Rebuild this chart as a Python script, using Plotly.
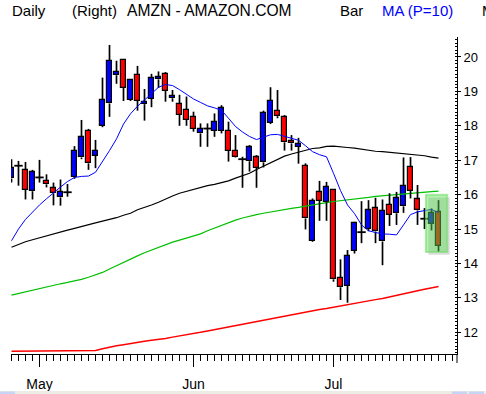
import plotly.graph_objects as go

# ---------------- data ----------------
month_tick_idx = [4, 26, 46]
month_labels = ["May", "Jun", "Jul"]

opens = [16.47, 16.84, 16.71, 16.10, 16.50, 16.39, 16.18, 15.92, 16.07, 16.52,
         17.08, 17.85, 17.13, 18.00, 18.65, 19.47, 19.91, 18.75, 19.48, 18.63,
         18.78, 19.35, 19.51, 18.80, 18.63, 18.46, 18.25, 17.78, 17.92, 17.86,
         17.86, 17.85, 17.27, 17.03, 16.97, 17.08, 16.94, 18.09, 18.43, 18.25,
         17.56, 17.39, 16.83, 14.66, 16.07, 15.78, 16.13, 13.57, 13.36, 14.37,
         14.91, 15.00, 15.60, 14.64, 15.70, 15.46, 15.66, 16.79, 15.86, 15.30,
         15.15, 15.49]
highs = [17.03, 16.98, 16.95, 16.72, 17.01, 16.59, 16.35, 16.44, 16.31, 17.41,
         18.17, 17.91, 17.59, 19.40, 20.35, 19.89, 19.94, 19.36, 19.74, 19.07,
         19.51, 19.58, 19.56, 19.04, 18.90, 18.85, 18.41, 18.07, 18.07, 18.36,
         18.60, 18.12, 17.73, 17.10, 17.44, 17.15, 18.44, 19.12, 19.04, 18.31,
         17.73, 17.65, 16.91, 15.89, 16.40, 16.37, 16.15, 14.12, 14.39, 15.21,
         15.81, 15.84, 15.91, 15.86, 16.04, 16.08, 17.08, 17.09, 16.28, 15.61,
         15.60, 15.84]
lows = [16.35, 16.26, 15.86, 15.86, 16.35, 16.21, 15.69, 15.68, 15.94, 16.46,
        17.03, 16.72, 16.77, 17.96, 18.26, 19.22, 18.72, 18.72, 18.44, 18.15,
        18.54, 19.10, 18.70, 18.70, 18.00, 18.00, 17.83, 17.39, 17.39, 17.68,
        17.78, 16.96, 17.08, 16.20, 16.67, 16.20, 16.79, 18.05, 18.22, 17.28,
        17.28, 16.90, 14.99, 14.63, 15.24, 15.24, 13.47, 12.94, 12.86, 14.29,
        14.59, 14.94, 14.59, 13.95, 15.09, 15.12, 15.47, 15.89, 15.12, 15.00,
        14.96, 14.34]
closes = [16.78, 16.84, 16.14, 16.65, 16.50, 16.30, 16.04, 16.07, 16.07, 17.27,
          17.67, 16.91, 17.27, 18.74, 19.88, 19.56, 19.11, 19.32, 18.73, 18.70,
          19.38, 19.41, 19.02, 18.87, 18.32, 18.17, 17.92, 17.91, 17.92, 18.10,
          18.51, 17.28, 17.10, 17.03, 17.37, 16.78, 18.38, 18.72, 18.28, 17.52,
          17.49, 17.46, 15.31, 15.81, 15.82, 16.21, 13.54, 13.31, 14.21, 15.17,
          14.91, 15.54, 14.93, 15.52, 15.41, 15.89, 16.25, 16.12, 15.54, 15.30,
          15.46, 14.51]

ma10 = [14.66, 15.00, 15.28, 15.50, 15.70, 15.88, 16.06, 16.22, 16.38, 16.50,
        16.53, 16.54, 16.65, 16.95, 17.28, 17.62, 18.05, 18.35, 18.57, 18.75,
        18.95, 19.12, 19.20, 19.17, 19.05, 18.92, 18.78, 18.68, 18.58, 18.52,
        18.45, 18.22, 17.98, 17.82, 17.69, 17.60, 17.66, 17.74, 17.75, 17.69,
        17.62, 17.58, 17.42, 17.25, 17.16, 17.10, 16.62, 16.12, 15.70, 15.45,
        15.12, 14.95, 14.90, 14.86, 14.85, 14.83, 15.12, 15.42, 15.50, 15.53,
        15.57, 15.47]
ma_black = [14.47, 14.56, 14.63, 14.69, 14.75, 14.80, 14.86, 14.92, 14.97, 15.02,
            15.08, 15.13, 15.18, 15.23, 15.27, 15.33, 15.40, 15.46, 15.56, 15.62,
            15.70, 15.78, 15.88, 15.96, 16.04, 16.10, 16.15, 16.20, 16.26, 16.30,
            16.35, 16.40, 16.48, 16.55, 16.62, 16.73, 16.83, 16.94, 17.04, 17.12,
            17.18, 17.24, 17.30, 17.34, 17.36, 17.40, 17.41, 17.40, 17.37, 17.35,
            17.32, 17.28, 17.26, 17.25, 17.23, 17.22, 17.20, 17.17, 17.14, 17.13,
            17.09, 17.06]
ma_green = [13.08, 13.13, 13.18, 13.23, 13.28, 13.33, 13.38, 13.41, 13.45, 13.49,
            13.54, 13.60, 13.67, 13.74, 13.84, 13.94, 14.04, 14.13, 14.22, 14.31,
            14.39, 14.48, 14.55, 14.62, 14.68, 14.74, 14.80, 14.86, 14.95, 15.03,
            15.12, 15.20, 15.26, 15.32, 15.38, 15.42, 15.46, 15.50, 15.53, 15.57,
            15.60, 15.63, 15.67, 15.70, 15.73, 15.77, 15.80, 15.82, 15.85, 15.87,
            15.89, 15.92, 15.95, 15.97, 15.99, 16.01, 16.03, 16.05, 16.07, 16.08,
            16.09, 16.10]
ma_red = [11.45, 11.45, 11.45, 11.45, 11.47, 11.47, 11.47, 11.47, 11.47, 11.47,
          11.47, 11.47, 11.47, 11.52, 11.57, 11.61, 11.64, 11.68, 11.71, 11.74,
          11.77, 11.79, 11.82, 11.86, 11.89, 11.93, 11.97, 12.00, 12.04, 12.08,
          12.12, 12.16, 12.20, 12.24, 12.28, 12.32, 12.36, 12.40, 12.44, 12.48,
          12.52, 12.56, 12.60, 12.63, 12.66, 12.69, 12.73, 12.77, 12.81, 12.85,
          12.89, 12.92, 12.95, 12.98, 13.03, 13.07, 13.12, 13.17, 13.21, 13.25,
          13.29, 13.33]

# ---------------- layout geometry ----------------
W, H = 486, 394
ML, MR, MT, MB = 11, 29, 37, 40
PW, PH = W - ML - MR, H - MT - MB


def pxx(px):
    return (px - ML) / PW


def pxy(py):
    return (H - MB - py) / PH


n = len(closes)
idx = list(range(n))

body_x, body_base, body_h, body_col = [], [], [], []
doji_x, doji_y = [], []
wick_x, wick_y = [], []
for i in idx:
    o, h, l, c = opens[i], highs[i], lows[i], closes[i]
    top, bot = max(o, c), min(o, c)
    if c == o:
        doji_x.append(i)
        doji_y.append(c)
        wick_x += [i, i, None]
        wick_y += [l, h, None]
    else:
        body_x.append(i)
        body_base.append(bot)
        body_h.append(top - bot)
        body_col.append("#0000ff" if c > o else "#ff0000")
        if h > top:
            wick_x += [i, i, None]
            wick_y += [top, h, None]
        if l < bot:
            wick_x += [i, i, None]
            wick_y += [l, bot, None]

fig = go.Figure()

fig.add_trace(go.Scatter(x=idx, y=ma_red, mode="lines",
                         line=dict(color="#ff0000", width=1.5), hoverinfo="skip"))
fig.add_trace(go.Scatter(x=idx, y=ma_green, mode="lines",
                         line=dict(color="#00c000", width=1.2), hoverinfo="skip"))
fig.add_trace(go.Scatter(x=idx, y=ma_black, mode="lines",
                         line=dict(color="#000000", width=1.2), hoverinfo="skip"))

fig.add_trace(go.Bar(x=body_x, base=body_base, y=body_h, width=0.62,
                     marker=dict(color=body_col, line=dict(color="black", width=1.2)),
                     hoverinfo="skip"))
fig.add_trace(go.Scatter(x=wick_x, y=wick_y, mode="lines",
                         line=dict(color="black", width=1.7), hoverinfo="skip"))
fig.add_trace(go.Scatter(x=doji_x, y=doji_y, mode="markers",
                         marker=dict(symbol="line-ew", size=6,
                                     line=dict(color="black", width=1.8)),
                         hoverinfo="skip"))
fig.add_trace(go.Scatter(x=idx, y=ma10, mode="lines",
                         line=dict(color="#0000ff", width=1), hoverinfo="skip"))

# highlight on the last two sessions
hx0 = n - 2 - 0.8
hx1 = n - 1 + 1.25
hy1 = max(highs[-2:]) + 0.16
hy0 = min(lows[-2:]) - 0.01
shapes = [
    dict(type="rect", xref="x", yref="y", x0=hx0 + 0.35, x1=hx1 + 0.35,
         y0=hy0 - 0.08, y1=hy1 - 0.08, layer="above",
         fillcolor="rgba(0,0,0,0.14)", line=dict(width=0)),
    dict(type="rect", xref="x", yref="y", x0=hx0, x1=hx1, y0=hy0, y1=hy1,
         layer="above", fillcolor="rgba(90,225,80,0.45)",
         line=dict(color="rgba(110,220,100,0.55)", width=2)),
    dict(type="line", xref="paper", yref="paper", x0=1, x1=1, y0=0, y1=pxy(363),
         line=dict(color="black", width=1)),
    dict(type="rect", xref="paper", yref="paper", x0=pxx(0), x1=pxx(486),
         y0=pxy(394), y1=pxy(391), fillcolor="#ecebe4", line=dict(width=0)),
    dict(type="rect", xref="paper", yref="paper", x0=pxx(0), x1=pxx(15),
         y0=pxy(394), y1=pxy(391.5), fillcolor="#c6d4f5", line=dict(width=0)),
    dict(type="rect", xref="paper", yref="paper", x0=pxx(452), x1=pxx(467),
         y0=pxy(394), y1=pxy(391.5), fillcolor="#c6d4f5", line=dict(width=0)),
    dict(type="rect", xref="paper", yref="paper", x0=pxx(469), x1=pxx(484),
         y0=pxy(394), y1=pxy(391.5), fillcolor="#c6d4f5", line=dict(width=0)),
]

hdr_font = "Liberation Sans, Arial, sans-serif"
header = [("Daily", 10, "black", 15), ("(Right)", 70, "black", 15),
          ("AMZN - AMAZON.COM", 125, "black", 15.6), ("Bar", 338, "black", 15),
          ("MA (P=10)", 380, "#0000ff", 15), ("M", 480, "black", 15)]
annotations = [dict(text=t, x=pxx(px), y=pxy(10), xref="paper", yref="paper",
                    xanchor="left", yanchor="middle", showarrow=False,
                    font=dict(family=hdr_font, size=sz, color=col))
               for t, px, col, sz in header]

fig.update_layout(
    width=W, height=H, autosize=False,
    margin=dict(l=ML, r=MR, t=MT, b=MB, pad=0, autoexpand=False),
    paper_bgcolor="white", plot_bgcolor="white",
    showlegend=False, bargap=0,
    shapes=shapes, annotations=annotations,
    font=dict(family=hdr_font, color="black"),
    xaxis=dict(range=[-0.07, 63.64], showgrid=False, zeroline=False,
               automargin=False,
               showline=True, linecolor="black", linewidth=1,
               tickmode="array", tickvals=month_tick_idx, ticktext=month_labels,
               ticks="outside", ticklen=12, tickwidth=1, tickcolor="black",
               tickfont=dict(size=14, family=hdr_font, color="black"),
               ticklabelstandoff=5,
               minor=dict(ticks="outside", ticklen=6, tick0=0, dtick=1,
                          tickcolor="black", tickwidth=1, showgrid=False),
               fixedrange=True),
    yaxis=dict(side="right", range=[11.37, 20.58], showgrid=False, zeroline=False,
               automargin=False,
               showline=True, linecolor="black", linewidth=1,
               tick0=0, dtick=1, ticks="outside", ticklen=3, tickwidth=1,
               tickcolor="black",
               tickfont=dict(size=13, family=hdr_font, color="black"),
               minor=dict(ticks="inside", ticklen=2, tick0=0, dtick=0.1,
                          tickcolor="black", tickwidth=1, showgrid=False),
               fixedrange=True),
)

fig.write_html("out.html", config={"displayModeBar": False},
               post_script="document.body.style.margin='0';"
                           "document.body.style.overflow='hidden';")
